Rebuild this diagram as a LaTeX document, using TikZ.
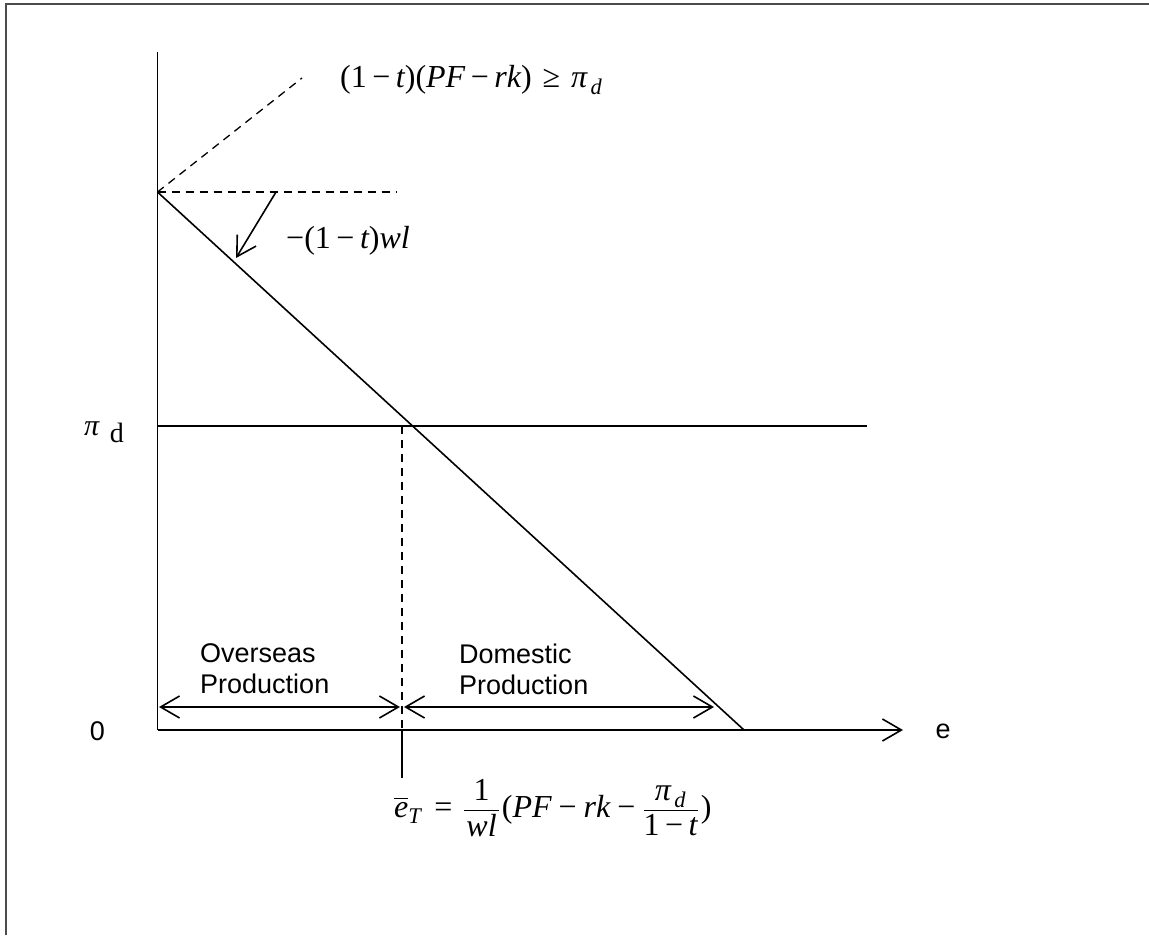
\documentclass[tikz,border=0pt]{standalone}
\usepackage{amsmath}
\usepackage{fontspec}
\setmainfont{Liberation Serif}
\setsansfont{Liberation Sans}
\usetikzlibrary{arrows.meta}
\newcommand{\vi}[1]{\text{\itshape #1}}
\newcommand{\vr}[1]{\text{#1}}
\newcommand{\mminus}{\mathbin{\text{−}}}
\newcommand{\wminus}{\hspace{7pt}\text{−}\hspace{7pt}}
\newcommand{\lp}{\mathopen{\text{(}}}
\newcommand{\rp}{\mathclose{\text{)}}}
\newcommand{\meq}{\mathrel{\text{=}}}
\newcommand{\mge}{\mathrel{\text{≥}}}
\tikzset{
  axisline/.style={line width=1.6pt, black},
  dashline/.style={line width=1.3pt, black, dash pattern=on 8pt off 6pt},
  chev/.style={-{Straight Barb[length=19pt,width=22pt,line width=1.6pt]}},
  chevs/.style={{Straight Barb[length=19pt,width=22pt,line width=1.6pt]}-{Straight Barb[length=19pt,width=22pt,line width=1.6pt]}},
  sflabel/.style={font=\sffamily\fontsize{27}{31}\selectfont, inner sep=0pt, align=left},
  mlabel/.style={font=\fontsize{32}{36}\selectfont, inner sep=0pt},
  frameline/.style={line width=2.5pt, black!70}
}
\begin{document}
\begin{tikzpicture}[x=1pt,y=-1pt]
\useasboundingbox (0,0) rectangle (1149,935);
% frame
\coordinate (F1) at (6,935);
\coordinate (F2) at (6,4);
\coordinate (F3) at (1149,4);
\draw[frameline] (F1) -- (F2) -- (F3);
% key points
\coordinate (O) at (157.5,730);
\coordinate (Ytop) at (157.5,52);
\coordinate (Xend) at (903,730);
\coordinate (A) at (157.5,192);
\coordinate (B) at (744,730);
\coordinate (Hd) at (396,192);
\coordinate (Dd) at (302,78);
\coordinate (P1) at (157.5,426);
\coordinate (P2) at (867,426);
\coordinate (V1) at (402,426);
\coordinate (V2) at (402,730);
\coordinate (V3) at (402,778);
\coordinate (S1) at (276,192);
\coordinate (S2) at (236,258);
% axes
\draw[axisline] (Ytop) -- (O);
\draw[axisline, chev] (O) -- (Xend);
% lines
\draw[axisline] (A) -- (B);
\draw[axisline] (P1) -- (P2);
\draw[dashline] (A) -- (Hd);
\draw[dashline] (A) -- (Dd);
\draw[dashline] (V1) -- (V2);
\draw[axisline] (V2) -- (V3);
\draw[axisline, chev] (S1) -- (S2);
% production arrows
\coordinate (Oa) at (159,707);
\coordinate (Ob) at (400,707);
\coordinate (Da) at (404,707);
\coordinate (Db) at (714,707);
\draw[axisline, chevs] (Oa) -- (Ob);
\draw[axisline, chevs] (Da) -- (Db);
% labels
\node[sflabel] (zero) at (97.5,731) {0};
\node[sflabel] (elab) at (943,731) {e};
\node[font=\fontsize{30}{34}\selectfont, inner sep=0pt, anchor=west] (pid) at (84,432) {\textit{π}\hspace{10pt}\raisebox{-7pt}{\fontsize{28}{30}\selectfont d}};
\node[sflabel, anchor=west] (overseas) at (200,669) {Overseas\\Production};
\node[sflabel, anchor=west] (domestic) at (459,669) {Domestic\\Production};
\node[mlabel, anchor=west] (cond) at (340,80) {$\lp\vr{1}\mminus\vi{t}\rp\lp\vi{PF}\mminus\vi{rk}\rp\hspace{4pt}\mge\hspace{4pt}\vi{π}_{\,\vi{d}}$};
\node[mlabel, anchor=west] (slope) at (286,241) {$\mminus\lp\vr{1}\mminus\vi{t}\rp\vi{wl}$};
\node[mlabel, anchor=west] (eT) at (394,808) {$\displaystyle \overline{\vi{e}}_{\vi{T}}\hspace{6pt}\meq\hspace{4pt}\frac{\hspace{5pt}\vr{1}\hspace{5pt}}{\hspace{2pt}\vi{wl}\hspace{2pt}}\hspace{2pt}\lp\vi{PF}\wminus\vi{rk}\wminus\frac{\hspace{3pt}\vi{π}_{\,\vi{d}}\hspace{3pt}}{\vr{1}\mminus\vi{t}}\hspace{2pt}\rp$};
\end{tikzpicture}
\end{document}
